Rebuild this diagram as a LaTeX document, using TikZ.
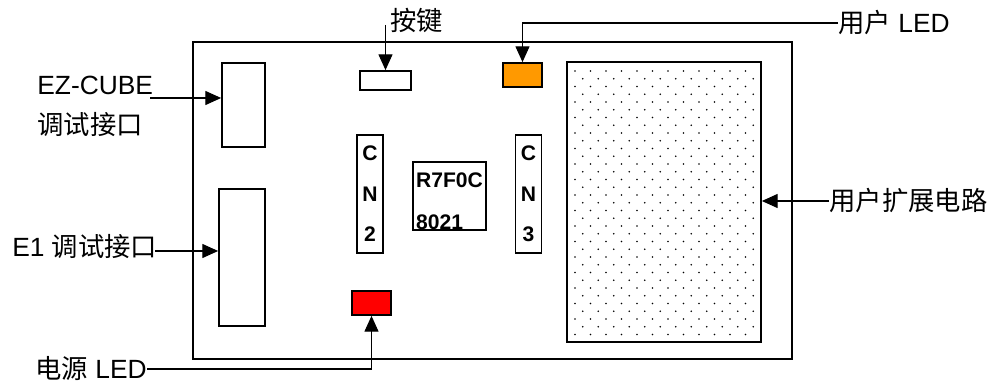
\documentclass[tikz,border=0pt]{standalone}
\usepackage{fontspec}
\setmainfont{Liberation Sans}
\newfontfamily\cjk{Noto Sans CJK SC}
\usepackage[dvipsnames]{xcolor}
\usepackage{tikz}
\usetikzlibrary{arrows.meta}
\definecolor{ledorange}{HTML}{FF9900}
\definecolor{ledred}{HTML}{FF0000}

\begin{document}
\begin{tikzpicture}[
        part/.style={draw, line width=1pt, inner sep=0pt},
        lbl/.style={font=\fontsize{15}{18}\selectfont, inner sep=0pt},
        arr/.style={-{Triangle[length=9pt,width=8pt]}, line width=0.6pt},
        cnbox/.style={part, minimum width=0.52cm, minimum height=2.36cm, align=center,
            font=\bfseries\fontsize{12}{23}\selectfont}
    ]
            \useasboundingbox (0,0) rectangle (20,-7.66);
            \node[draw, line width=0.8pt, minimum width=11.98cm, minimum height=6.34cm] (board) at (9.85,-4.01) {};

            \node[part, minimum width=0.86cm, minimum height=1.68cm] (ez) at (4.87,-2.10) {};
            \node[part, minimum width=0.92cm, minimum height=2.74cm] (e1) at (4.84,-5.15) {};
            \node[part, minimum width=1.02cm, minimum height=0.38cm] (btn) at (7.71,-1.61) {};
            \node[part, fill=ledorange, minimum width=0.78cm, minimum height=0.48cm] (userled) at (10.45,-1.50) {};
            \node[part, fill=ledred, minimum width=0.78cm, minimum height=0.48cm] (pwrled) at (7.43,-6.06) {};
            \node[cnbox] (cn2) at (7.40,-3.88) {C\\N\\2};
            \node[cnbox] (cn3) at (10.57,-3.88) {C\\N\\3};
            \node[part, minimum width=1.46cm, minimum height=1.36cm, align=left,
                font=\bfseries\fontsize{12}{24}\selectfont] (mcu) at (8.99,-3.92) {\rule{0pt}{14pt}R7F0C\\8021};
            \node[part, minimum width=3.88cm, minimum height=5.6cm] (ext) at (13.28,-4.04) {};

            % puntos del area de expansion
            \foreach \j in {0,...,34} {
                \pgfmathsetmacro\off{mod(\j,2)*0.155}
                \foreach \i in {0,...,11}
                    \fill (11.50+\off+\i*0.31, -1.42-\j*0.155) circle (0.018);
            }

            \node[lbl, anchor=base west] (ezlbl) at (0.74,-1.90) {EZ-CUBE};
            \node[lbl, anchor=west] (ezlbl2) at (0.74,-2.50) {\cjk 调试接口};
            \node[lbl, anchor=west] (e1lbl) at (0.24,-4.94) {E1 {\cjk 调试接口}};
            \node[lbl, anchor=west] (keylbl) at (7.80,-0.40) {\cjk 按键};
            \node[lbl, anchor=west] (userlbl) at (16.76,-0.46) {{\cjk 用户} LED};
            \node[lbl, anchor=west] (extlbl) at (16.58,-4.02) {\cjk 用户扩展电路};
            \node[lbl, anchor=west] (pwrlbl) at (0.70,-7.38) {{\cjk 电源} LED};

            \coordinate (ezin) at (3.00,-1.96);
            \coordinate (e1in) at (3.10,-5.02);
            \coordinate (keyin) at (7.71,-0.50);
            \draw[arr] (ezin) -- (ezin -| ez.west);
            \draw[arr] (e1in) -- (e1in -| e1.west);
            \draw[arr] (keyin) -- (btn.north);
            \draw[arr] (userlbl.west) -- (userlbl.west -| userled.north) -- (userled.north);
            \draw[arr] (extlbl.west) -- (extlbl.west -| ext.east);
            \draw[arr] (pwrlbl.east) -- (pwrlbl.east -| pwrled.south) -- (pwrled.south);
        \end{tikzpicture}
\end{document}
